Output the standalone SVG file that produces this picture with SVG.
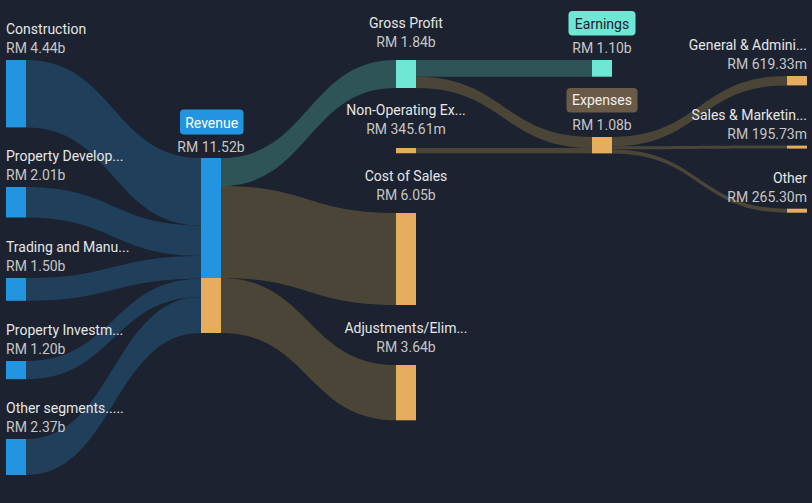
<svg xmlns="http://www.w3.org/2000/svg" width="812" height="503" viewBox="0 0 812 503">
<style>
text{font-family:Roboto,"Liberation Sans",sans-serif;font-size:14px}
.n{fill:#e6e6e6}
.v{fill:#c6c6c6}
.m{text-anchor:middle}
.e{text-anchor:end}
.lb{fill:#1f3f5a}
.lt{fill:#2e5457}
.lo{fill:#4b4538}
.blue{fill:#2394df}
.org{fill:#e6ad5e}
.teal{fill:#6ee7d5}
</style>
<rect width="812" height="503" fill="#1c2230"/>
<g id="connectors">
<path class="lb" d="M26,60 C113.5,60 113.5,158 201,158 L201,225.4 C113.5,225.4 113.5,127.4 26,127.4 Z"/>
<path class="lb" d="M26,187 C113.5,187 113.5,225.4 201,225.4 L201,255.9 C113.5,255.9 113.5,217.5 26,217.5 Z"/>
<path class="lb" d="M26,278 C113.5,278 113.5,255.9 201,255.9 L201,278.7 C113.5,278.7 113.5,300.8 26,300.8 Z"/>
<path class="lb" d="M26,361 C113.5,361 113.5,278.7 201,278.7 L201,296.9 C113.5,296.9 113.5,379.2 26,379.2 Z"/>
<path class="lb" d="M26,439 C113.5,439 113.5,296.9 201,296.9 L201,333 C113.5,333 113.5,475 26,475 Z"/>
<path class="lt" d="M221,158 C308.5,158 308.5,60 396,60 L396,88 C308.5,88 308.5,186 221,186 Z"/>
<path class="lo" d="M221,186 C308.5,186 308.5,213 396,213 L396,305 C308.5,305 308.5,278 221,278 Z"/>
<path class="lo" d="M221,278 C308.5,278 308.5,365 396,365 L396,420.3 C308.5,420.3 308.5,333 221,333 Z"/>
<path class="lt" d="M416,60 L592,60 L592,76.7 L416,76.7 Z"/>
<path class="lo" d="M416,76.7 C504,76.7 504,137 592,137 L592,148.2 C504,148.2 504,88 416,88 Z"/>
<path class="lo" d="M416,148 C504,148 504,148.2 592,148.2 L592,153.4 C504,153.4 504,153.25 416,153.25 Z"/>
<path class="lo" d="M612,137 C699.5,137 699.5,76 787,76 L787,85.4 C699.5,85.4 699.5,146.4 612,146.4 Z"/>
<path class="lo" d="M612,146.4 C699.5,146.4 699.5,145.6 787,145.6 L787,148.6 C699.5,148.6 699.5,149.4 612,149.4 Z"/>
<path class="lo" d="M612,149.4 C699.5,149.4 699.5,208.7 787,208.7 L787,212.7 C699.5,212.7 699.5,153.4 612,153.4 Z"/>
</g>
<g id="construction">
<rect class="blue" x="6" y="60" width="20" height="67.4"/>
<text class="n" x="6" y="34">Construction</text>
<text class="v" x="6" y="53">RM 4.44b</text>
</g>
<g id="property-development">
<rect class="blue" x="6" y="187" width="20" height="30.5"/>
<text class="n" x="6" y="161">Property Develop...</text>
<text class="v" x="6" y="180">RM 2.01b</text>
</g>
<g id="trading">
<rect class="blue" x="6" y="278" width="20" height="22.8"/>
<text class="n" x="6" y="252">Trading and Manu...</text>
<text class="v" x="6" y="271">RM 1.50b</text>
</g>
<g id="property-investment">
<rect class="blue" x="6" y="361" width="20" height="18.2"/>
<text class="n" x="6" y="335">Property Investm...</text>
<text class="v" x="6" y="354">RM 1.20b</text>
</g>
<g id="other-segments">
<rect class="blue" x="6" y="439" width="20" height="36"/>
<text class="n" x="6" y="413">Other segments.....</text>
<text class="v" x="6" y="432">RM 2.37b</text>
</g>
<g id="revenue">
<rect class="blue" x="201" y="158" width="20" height="120"/>
<rect class="org" x="201" y="278" width="20" height="55"/>
<rect class="blue" x="180" y="109.5" width="63.5" height="25" rx="4"/>
<text x="211.7" y="127.5" class="m" fill="#ffffff">Revenue</text>
<text class="v m" x="211" y="152">RM 11.52b</text>
</g>
<g id="gross-profit">
<rect class="teal" x="396" y="60" width="20" height="28"/>
<text class="n m" x="406" y="28">Gross Profit</text>
<text class="v m" x="406" y="47">RM 1.84b</text>
</g>
<g id="non-operating">
<rect class="org" x="396" y="148" width="20" height="5.25"/>
<text class="n m" x="406" y="115">Non-Operating Ex...</text>
<text class="v m" x="406" y="134">RM 345.61m</text>
</g>
<g id="cost-of-sales">
<rect class="org" x="396" y="213" width="20" height="92"/>
<text class="n m" x="406" y="181">Cost of Sales</text>
<text class="v m" x="406" y="200">RM 6.05b</text>
</g>
<g id="adjustments">
<rect class="org" x="396" y="365" width="20" height="55.3"/>
<text class="n m" x="406" y="333">Adjustments/Elim...</text>
<text class="v m" x="406" y="352">RM 3.64b</text>
</g>
<g id="earnings">
<rect class="teal" x="592" y="60" width="20" height="16.7"/>
<rect x="568.5" y="11" width="67" height="24.5" rx="4" fill="#6ee7d5"/>
<text x="602" y="28.5" class="m" fill="#1c2230">Earnings</text>
<text class="v m" x="602" y="53">RM 1.10b</text>
</g>
<g id="expenses">
<rect class="org" x="592" y="137" width="20" height="16.4"/>
<rect x="566.5" y="88" width="71" height="24.5" rx="4" fill="#6b5a45"/>
<text x="602" y="105" class="m" fill="#f0f0f0">Expenses</text>
<text class="v m" x="602" y="130">RM 1.08b</text>
</g>
<g id="general-admin">
<rect class="org" x="787" y="76" width="20" height="9.4"/>
<text class="n e" x="807" y="49.5">General &amp; Admini...</text>
<text class="v e" x="807" y="68.5">RM 619.33m</text>
</g>
<g id="sales-marketing">
<rect class="org" x="787" y="145.6" width="20" height="3"/>
<text class="n e" x="807" y="120">Sales &amp; Marketin...</text>
<text class="v e" x="807" y="138.5">RM 195.73m</text>
</g>
<g id="other">
<rect class="org" x="787" y="208.7" width="20" height="4"/>
<text class="n e" x="807" y="182.5">Other</text>
<text class="v e" x="807" y="201.5">RM 265.30m</text>
</g>
</svg>
